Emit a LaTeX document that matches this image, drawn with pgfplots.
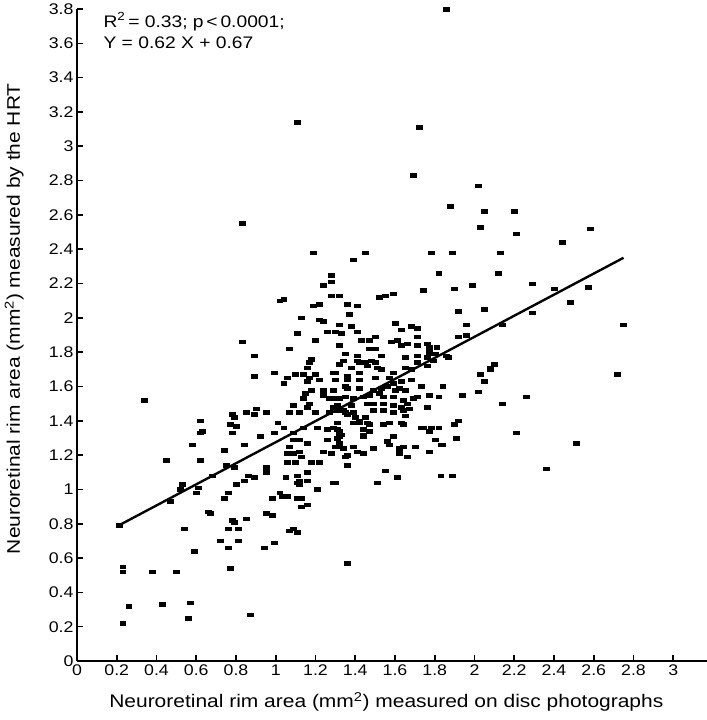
\documentclass[border=0pt]{standalone}
\usepackage{fontspec}
\setmainfont{Liberation Sans}[FakeStretch=1.15]
\usepackage{pgfplots}
\pgfplotsset{compat=1.18}
\pgfplotstableread{
x y
1.86 3.80
1.11 3.14
1.72 3.11
1.69 2.83
2.02 2.77
1.88 2.65
2.05 2.62
2.20 2.62
2.03 2.53
2.21 2.49
2.58 2.52
2.44 2.44
0.83 2.55
1.19 2.38
1.39 2.34
1.45 2.38
1.78 2.38
1.89 2.38
2.13 2.38
1.82 2.26
2.12 2.26
2.29 2.20
2.40 2.17
2.57 2.18
2.48 2.09
2.29 2.03
2.75 1.96
2.72 1.67
2.51 1.27
2.36 1.12
1.90 2.17
1.99 2.19
1.74 2.16
1.28 2.25
1.24 2.19
1.28 2.21
1.28 2.13
1.32 2.13
1.02 2.10
1.04 2.11
1.19 2.07
1.22 2.08
1.36 2.08
1.41 2.07
1.52 2.12
1.55 2.13
1.59 2.14
1.13 2.00
1.22 1.99
1.24 1.98
1.37 2.02
1.32 1.96
1.38 1.95
1.26 1.92
1.30 1.92
1.33 1.91
1.41 1.92
1.11 1.91
1.20 1.87
1.32 1.84
1.43 1.87
1.47 1.87
1.50 1.89
1.60 1.97
1.63 1.93
1.68 1.95
1.71 1.94
1.71 1.89
1.71 1.84
1.58 1.86
1.61 1.87
1.63 1.84
1.66 1.85
1.76 1.85
1.81 1.83
1.77 1.83
1.92 2.04
2.05 2.05
1.96 1.96
1.92 1.89
1.96 1.90
2.14 1.96
0.83 1.86
1.07 1.82
0.89 1.78
1.34 1.75
1.32 1.73
1.18 1.76
1.17 1.74
1.16 1.71
1.30 1.68
1.30 1.64
1.36 1.64
0.89 1.66
0.99 1.68
1.06 1.65
1.10 1.67
1.04 1.62
1.14 1.67
1.17 1.65
1.20 1.67
1.22 1.64
1.16 1.63
1.18 1.58
1.15 1.56
1.24 1.58
1.24 1.55
1.27 1.53
1.29 1.58
1.32 1.53
1.36 1.59
1.14 1.53
1.17 1.50
1.09 1.49
1.16 1.48
1.20 1.45
1.29 1.48
1.31 1.46
1.34 1.46
1.36 1.44
1.27 1.45
1.12 1.45
1.07 1.45
0.34 1.52
0.90 1.47
0.85 1.45
0.89 1.44
0.95 1.45
0.78 1.44
0.79 1.42
0.62 1.40
0.77 1.38
0.80 1.37
0.63 1.34
0.62 1.33
0.78 1.33
1.01 1.39
1.04 1.36
0.99 1.33
0.92 1.31
1.09 1.33
1.14 1.36
1.09 1.29
1.16 1.27
1.07 1.25
1.21 1.36
1.26 1.35
1.31 1.35
1.26 1.29
1.31 1.30
1.32 1.27
1.32 1.25
0.58 1.26
0.74 1.23
0.84 1.26
1.06 1.21
1.09 1.21
1.12 1.22
1.24 1.22
1.28 1.21
1.35 1.19
0.45 1.17
0.62 1.17
1.06 1.16
1.10 1.16
1.13 1.19
1.16 1.10
1.18 1.16
1.22 1.16
0.79 1.13
0.95 1.13
0.95 1.10
0.86 1.08
0.89 1.07
0.84 1.05
0.80 1.03
1.05 1.07
1.11 1.08
1.12 1.05
1.12 1.03
1.21 1.00
1.30 1.04
0.53 1.03
0.52 1.00
0.61 1.01
0.60 0.98
0.76 0.98
0.74 0.95
0.98 0.95
1.02 0.98
1.03 0.96
1.06 0.96
1.13 0.95
0.21 0.79
0.23 0.55
0.23 0.52
0.23 0.22
0.26 0.32
0.38 0.52
0.43 0.33
0.50 0.52
0.56 0.25
0.57 0.34
0.54 0.77
0.59 0.64
0.47 0.93
0.68 1.08
0.66 0.87
0.67 0.86
0.72 0.70
0.75 1.14
0.76 0.77
0.76 0.66
0.77 0.54
0.78 0.82
0.79 0.81
0.81 0.77
0.81 0.70
0.85 0.83
0.87 0.27
0.94 0.66
0.95 0.86
0.98 0.85
0.99 0.69
1.07 0.76
1.09 0.77
1.11 0.75
1.13 0.90
1.11 0.95
1.11 1.04
1.16 1.05
1.16 0.91
1.12 1.29
1.36 0.57
1.77 1.81
1.77 1.79
1.47 1.82
1.50 1.82
1.35 1.79
1.41 1.78
1.53 1.78
1.65 1.77
1.71 1.78
1.76 1.77
1.80 1.79
1.86 1.78
1.41 1.75
1.42 1.74
1.45 1.74
1.48 1.75
1.50 1.74
1.38 1.71
1.46 1.72
1.51 1.71
1.53 1.70
1.59 1.68
1.65 1.71
1.68 1.70
1.71 1.74
1.76 1.72
1.79 1.75
1.29 1.68
1.36 1.66
1.42 1.68
1.42 1.64
1.50 1.65
1.57 1.65
1.59 1.62
1.63 1.63
1.68 1.64
1.35 1.60
1.42 1.59
1.49 1.58
1.53 1.59
1.56 1.60
1.60 1.58
1.62 1.59
1.65 1.58
1.71 1.54
1.73 1.60
1.77 1.55
1.84 1.60
1.82 1.54
1.29 1.53
1.35 1.54
1.39 1.53
1.44 1.54
1.47 1.55
1.52 1.56
1.54 1.54
1.59 1.54
1.64 1.52
1.66 1.50
1.69 1.53
1.76 1.48
1.31 1.49
1.38 1.49
1.46 1.50
1.49 1.50
1.54 1.50
1.59 1.49
1.63 1.48
1.67 1.47
1.35 1.45
1.39 1.45
1.40 1.42
1.45 1.42
1.49 1.46
1.54 1.46
1.59 1.45
1.64 1.46
1.65 1.43
1.42 1.39
1.47 1.38
1.73 1.36
1.78 1.36
1.82 1.36
1.87 1.77
2.10 1.73
2.08 1.71
2.08 1.70
2.03 1.67
2.05 1.63
2.02 1.57
1.94 1.55
2.26 1.54
2.14 1.50
1.92 1.40
1.90 1.38
1.31 1.39
1.39 1.39
1.42 1.40
1.46 1.39
1.44 1.35
1.47 1.34
1.54 1.38
1.57 1.39
1.63 1.39
1.64 1.38
1.74 1.36
1.77 1.34
1.29 1.36
1.32 1.34
1.33 1.32
1.32 1.31
1.44 1.32
1.44 1.31
1.59 1.31
1.56 1.28
1.57 1.26
1.32 1.27
1.30 1.25
1.34 1.24
1.39 1.25
1.49 1.24
1.41 1.22
1.44 1.21
1.36 1.20
1.35 1.19
1.28 1.21
1.62 1.24
1.64 1.25
1.70 1.25
1.62 1.21
1.66 1.19
1.77 1.22
1.80 1.29
1.83 1.26
1.36 1.14
1.55 1.11
1.61 1.07
1.51 1.04
1.29 1.04
1.83 1.08
1.91 1.30
1.84 1.26
2.21 1.33
1.89 1.08
}\pts
\begin{document}
\begin{tikzpicture}
\begin{axis}[
  scale only axis, width=630bp, height=652bp,
  xmin=0, xmax=3.17, ymin=0, ymax=3.8,
  axis x line*=bottom, axis y line*=left,
  axis line style={line width=1.8pt,-},
  xtick={0,0.2,0.4,0.6,0.8,1,1.2,1.4,1.6,1.8,2,2.2,2.4,2.6,2.8,3},
  ytick={0,0.2,0.4,0.6,0.8,1,1.2,1.4,1.6,1.8,2,2.2,2.4,2.6,2.8,3,3.2,3.4,3.6,3.8},
  tick align=inside, major tick length=6bp,
  tick style={line width=1.6pt, black},
  ticklabel style={font=\fontsize{15.5}{18}\selectfont},
  /pgf/number format/assume math mode=true,
  xlabel={Neuroretinal rim area (mm\textsuperscript{2}) measured on disc photographs},
  ylabel={Neuroretinal rim area (mm\textsuperscript{2}) measured by the HRT},
  label style={font=\fontsize{18.3}{21}\selectfont},
  xlabel style={at={(axis description cs:0.491,-0.072)}, anchor=base},
  ylabel style={at={(axis description cs:-0.0905,0.525)}, anchor=base},
  clip=false,
]
\addplot[only marks, mark=square*, mark size=1.8bp, mark options={xscale=1.65, yscale=1, draw=black, fill=black}] table[x=x,y=y] {\pts};
\addplot[line width=2.4pt, black] coordinates {(0.21,0.79) (2.75,2.35)};
\node[anchor=base west, font=\fontsize{16.8}{20}\selectfont] at (axis cs:0.116,3.695) {R\textsuperscript{2}\,= 0.33; p\,<\,0.0001;};
\node[anchor=base west, font=\fontsize{16.8}{20}\selectfont] at (axis cs:0.116,3.57) {Y = 0.62 X + 0.67};
\end{axis}
\pgfresetboundingbox
\path[use as bounding box] (-77bp,-59bp) rectangle (630bp,661bp);
\end{tikzpicture}
\end{document}
